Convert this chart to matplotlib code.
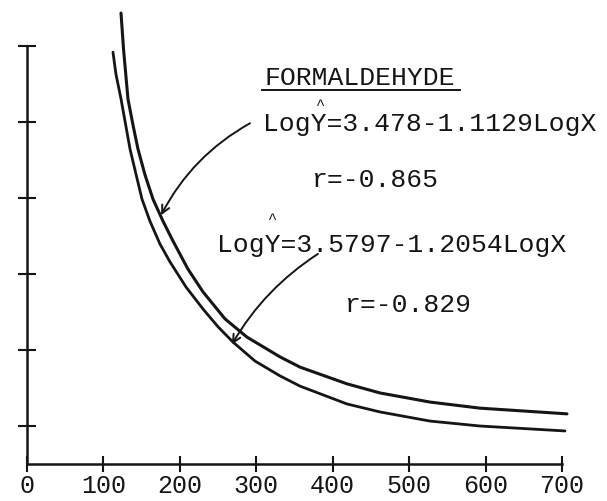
import matplotlib
matplotlib.use("Agg")
import matplotlib.pyplot as plt
from matplotlib.lines import Line2D
from matplotlib.transforms import IdentityTransform

# curves (y axis has no labels, units are tick units)
x_upper = [123.0, 126.3, 132.1, 138.7, 145.2, 154.4, 164.9, 178.0, 191.0, 210.6,
           230.3, 259.1, 287.8, 331.0, 357.2, 418.7, 461.9, 527.3, 592.7, 706.5]
y_upper = [12.87, 11.92, 10.61, 9.92, 9.29, 8.61, 7.97, 7.39, 6.87, 6.13,
           5.53, 4.82, 4.34, 3.82, 3.55, 3.11, 2.87, 2.63, 2.47, 2.32]

x_lower = [112.5, 116.4, 123.0, 128.9, 134.8, 142.6, 150.5, 160.9, 174.0, 187.1, 208.0,
           230.3, 250.0, 269.5, 298.3, 331.0, 357.2, 418.7, 461.9, 527.3, 592.7, 703.9]
y_lower = [11.84, 11.26, 10.61, 9.95, 9.29, 8.63, 7.97, 7.39, 6.79, 6.32, 5.66,
           5.08, 4.61, 4.21, 3.71, 3.32, 3.05, 2.58, 2.37, 2.13, 2.00, 1.87]

x_ticks = [0, 100, 200, 300, 400, 500, 600, 700]
y_ticks = [2, 4, 6, 8, 10, 12]

title = "FORMALDEHYDE"
eq_upper = "LogY=3.478-1.1129LogX"
r_upper = "r=-0.865"
eq_lower = "LogY=3.5797-1.2054LogX"
r_lower = "r=-0.829"

ink = "#151515"
mono = "Liberation Mono"

fig = plt.figure(figsize=(6.07, 5.02), dpi=100)
ax = fig.add_axes([27 / 607, 37 / 502, 535 / 607, 465 / 502])
ax.set_xlim(0, 700)
ax.set_ylim(1, 13.24)

ax.plot(x_upper, y_upper, color=ink, lw=2.2, clip_on=False, solid_capstyle="round")
ax.plot(x_lower, y_lower, color=ink, lw=2.0, clip_on=False, solid_capstyle="round")

for s in ["top", "right"]:
    ax.spines[s].set_visible(False)
for s in ["left", "bottom"]:
    ax.spines[s].set_linewidth(1.8)
    ax.spines[s].set_color(ink)
ax.spines["left"].set_bounds(1, 12)

ax.set_xticks(x_ticks)
ax.set_xticklabels([str(v) for v in x_ticks], fontfamily=mono, fontsize=18, color=ink)
ax.set_yticks(y_ticks)
ax.set_yticklabels([])
ax.tick_params(axis="x", direction="inout", length=11, width=1.5, color=ink, pad=1)
ax.tick_params(axis="y", direction="inout", length=13, width=1.5, color=ink)

kw = dict(fontfamily=mono, fontsize=19, color=ink, va="baseline", ha="left")
t_title = ax.text(311.4, 11.0, title, **kw)
ax.text(308.8, 9.79, eq_upper, **kw)
ax.text(372.9, 8.32, r_upper, **kw)
ax.text(248.6, 6.61, eq_lower, **kw)
ax.text(416.1, 5.03, r_lower, **kw)

# hats over the Y
ax.text(383.4, 10.36, "^", fontfamily=mono, fontsize=11, color=ink, ha="center", va="baseline")
ax.text(320.6, 7.36, "^", fontfamily=mono, fontsize=11, color=ink, ha="center", va="baseline")

# hand drawn arrows
ax.annotate("", xy=(175.5, 7.55), xytext=(291.8, 9.97),
            arrowprops=dict(arrowstyle="->", color=ink, lw=1.4, mutation_scale=14,
                            shrinkA=0, shrinkB=0, connectionstyle="arc3,rad=0.15"))
ax.annotate("", xy=(268.2, 4.15), xytext=(380.7, 6.53),
            arrowprops=dict(arrowstyle="->", color=ink, lw=1.4, mutation_scale=14,
                            shrinkA=0, shrinkB=0, connectionstyle="arc3,rad=0.12"))

# underline the title
fig.canvas.draw()
bb = t_title.get_window_extent()
base_y = ax.transData.transform((311.4, 11.0))[1]
fig.add_artist(Line2D([bb.x0 - 3, bb.x1 + 5], [base_y - 6, base_y - 6],
                      transform=IdentityTransform(), color=ink, lw=1.4))

fig.savefig("out.png", dpi=100)
